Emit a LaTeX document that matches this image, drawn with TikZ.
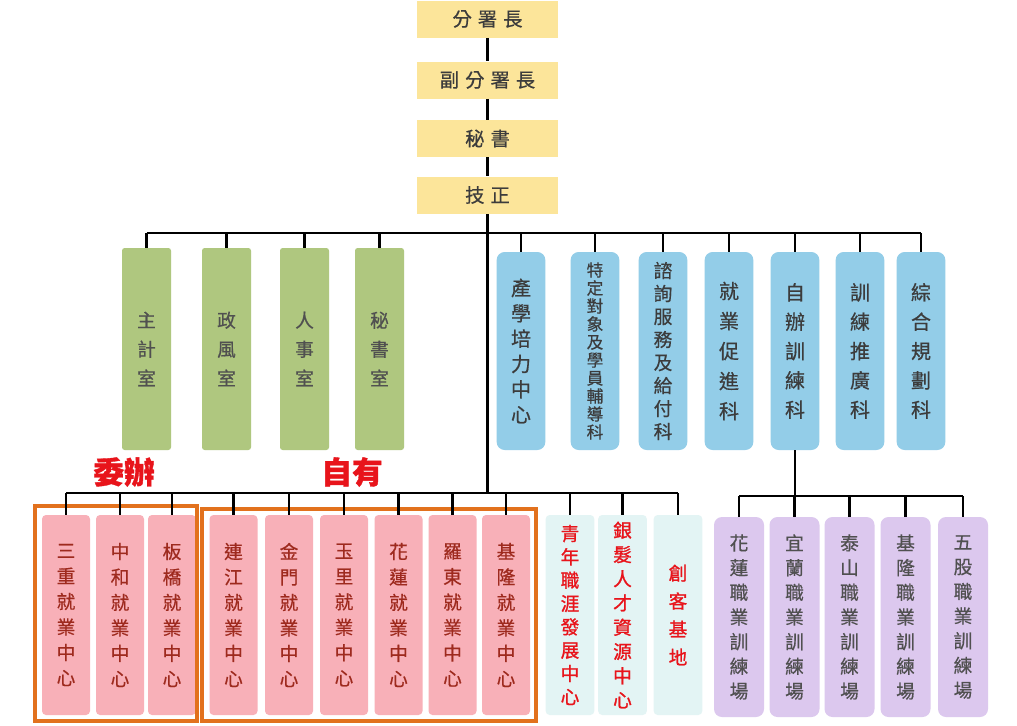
\documentclass[tikz,border=0pt]{standalone}
\usepackage{fontspec}
\setmainfont{Noto Sans CJK TC}
\newfontfamily\medfont{Noto Sans CJK TC}[FakeBold=0.6]
\newfontfamily\hvyfont{Noto Sans CJK TC}[FakeBold=1.2]
\definecolor{ybox}{HTML}{FCE59A}
\definecolor{gbox}{HTML}{AFC77F}
\definecolor{bbox}{HTML}{93CDE8}
\definecolor{pbox}{HTML}{F8B0B8}
\definecolor{cbox}{HTML}{E3F4F4}
\definecolor{lbox}{HTML}{DCC8EE}
\definecolor{frame}{HTML}{E2711D}
\definecolor{redtxt}{HTML}{E8141B}
\definecolor{brtxt}{HTML}{9E2A1E}
\definecolor{dtxt}{HTML}{3C3C3C}
\definecolor{gtxt}{HTML}{505050}
\begin{document}
\begin{tikzpicture}[x=0.75pt,y=-0.75pt,
  conn/.style={line width=1.6pt,black},
  topbox/.style={fill=ybox,draw=none,minimum width=105.75pt,minimum height=27.75pt,inner sep=0pt,text=dtxt,font=\medfont\fontsize{14.5pt}{17pt}\selectfont},
  gbx/.style={fill=gbox,draw=none,rounded corners=2pt,minimum width=36.75pt,minimum height=151.5pt,inner sep=0pt,align=center,text=gtxt},
  bbx/.style={fill=bbox,draw=none,rounded corners=6pt,minimum width=36.5pt,minimum height=148.5pt,inner sep=0pt,align=center,text=dtxt},
  pbx/.style={fill=pbox,draw=none,rounded corners=3pt,minimum width=36pt,minimum height=150pt,inner sep=0pt,align=center,text=brtxt,font=\medfont\fontsize{14pt}{19.1pt}\selectfont},
  cbx/.style={fill=cbox,draw=none,rounded corners=3pt,minimum width=36.5pt,minimum height=150pt,inner sep=0pt,align=center,text=redtxt},
  lbx/.style={fill=lbox,draw=none,rounded corners=6pt,minimum width=37.5pt,minimum height=150pt,inner sep=0pt,align=center,text=gtxt,font=\medfont\fontsize{14pt}{18.5pt}\selectfont},
  grouplabel/.style={text=redtxt,font=\hvyfont\fontsize{23pt}{26pt}\selectfont\bfseries},
  gframe/.style={draw=frame,line width=3pt}]
\useasboundingbox (0,0) rectangle (1017,725);
\fill[white] (0,0) rectangle (1017,725);

% top chain
\node[topbox] (t1) at (487.5,19) {分\hspace{4.5pt}署\hspace{4.5pt}長};
\node[topbox] (t2) at (487.5,80) {副\hspace{4.5pt}分\hspace{4.5pt}署\hspace{4.5pt}長};
\node[topbox] (t3) at (487.5,138.5) {秘\hspace{4.5pt}書};
\node[topbox] (t4) at (487.5,195) {技\hspace{4.5pt}正};

% green offices
\begin{scope}[font=\medfont\fontsize{14pt}{21.75pt}\selectfont]
\node[gbx] (g1) at (146.5,349) {主\\計\\室};
\node[gbx] (g2) at (226.5,349) {政\\風\\室};
\node[gbx] (g3) at (304.5,349) {人\\事\\室};
\node[gbx] (g4) at (379.5,349) {秘\\書\\室};
\end{scope}

% blue sections
\node[bbx,font=\medfont\fontsize{15pt}{19pt}\selectfont] (b1) at (521,351) {產\\學\\培\\力\\中\\心};
\node[bbx,font=\medfont\fontsize{12.5pt}{13.5pt}\selectfont] (b2) at (595,351) {特\\定\\對\\象\\及\\學\\員\\輔\\導\\科};
\node[bbx,font=\medfont\fontsize{14pt}{17.25pt}\selectfont] (b3) at (663,351) {諮\\詢\\服\\務\\及\\給\\付\\科};
\node[bbx,font=\medfont\fontsize{15pt}{22.5pt}\selectfont] (b4) at (729,351) {就\\業\\促\\進\\科};
\node[bbx,font=\medfont\fontsize{15pt}{22pt}\selectfont] (b5) at (795,351) {自\\辦\\訓\\練\\科};
\node[bbx,font=\medfont\fontsize{15pt}{22pt}\selectfont] (b6) at (860,351) {訓\\練\\推\\廣\\科};
\node[bbx,font=\medfont\fontsize{15pt}{22pt}\selectfont] (b7) at (921,351) {綜\\合\\規\\劃\\科};

% pink employment centres
\node[pbx] (p1) at (66,615) {三\\重\\就\\業\\中\\心};
\node[pbx] (p2) at (120,615) {中\\和\\就\\業\\中\\心};
\node[pbx] (p3) at (172,615) {板\\橋\\就\\業\\中\\心};
\node[pbx] (p4) at (233.5,615) {連\\江\\就\\業\\中\\心};
\node[pbx] (p5) at (289,615) {金\\門\\就\\業\\中\\心};
\node[pbx] (p6) at (344,615) {玉\\里\\就\\業\\中\\心};
\node[pbx] (p7) at (398.5,615) {花\\蓮\\就\\業\\中\\心};
\node[pbx] (p8) at (452.5,615) {羅\\東\\就\\業\\中\\心};
\node[pbx] (p9) at (506,615) {基\\隆\\就\\業\\中\\心};

% cyan centres
\node[cbx,font=\hvyfont\fontsize{14pt}{17.5pt}\selectfont] (c1) at (570,615) {青\\年\\職\\涯\\發\\展\\中\\心};
\node[cbx,font=\hvyfont\fontsize{14pt}{18.2pt}\selectfont] (c2) at (622.5,615) {銀\\髮\\人\\才\\資\\源\\中\\心};
\node[cbx,font=\hvyfont\fontsize{14pt}{21pt}\selectfont] (c3) at (678,615) {創\\客\\基\\地};

% lavender training sites
\node[lbx] (l1) at (739,617) {花\\蓮\\職\\業\\訓\\練\\場};
\node[lbx] (l2) at (794.5,617) {宜\\蘭\\職\\業\\訓\\練\\場};
\node[lbx] (l3) at (849.5,617) {泰\\山\\職\\業\\訓\\練\\場};
\node[lbx] (l4) at (905.5,617) {基\\隆\\職\\業\\訓\\練\\場};
\node[lbx] (l5) at (963,617) {五\\股\\職\\業\\訓\\練\\場};

% group labels and frames
\node[grouplabel] (lab1) at (124,472) {委辦};
\node[grouplabel] (lab2) at (352,472) {自有};
\draw[gframe] (35,506) rectangle (197,721);
\draw[gframe] (202,509) rectangle (536,721);

% bus coordinates
\coordinate (busA) at (0,233);
\coordinate (busB) at (0,493);
\coordinate (busC) at (0,496);
\coordinate (jB) at (487.5,493);

% connectors
\draw[conn] (t1.south) -- (t2.north);
\draw[conn] (t2.south) -- (t3.north);
\draw[conn] (t3.south) -- (t4.north);
\draw[conn] (t4.south) -- (jB);
\draw[conn] (g1.north |- busA) -- (b7.north |- busA);
\foreach \n in {g1,g2,g3,g4,b1,b2,b3,b4,b5,b6,b7}
  \draw[conn] (\n.north) -- (\n.north |- busA);
\draw[conn] (p1.north |- busB) -- (c3.north |- busB);
\foreach \n in {p1,p2,p3,p4,p5,p6,p7,p8,p9,c1,c2,c3}
  \draw[conn] (\n.north) -- (\n.north |- busB);
\draw[conn] (b5.south) -- (b5.south |- busC);
\draw[conn] (l1.north |- busC) -- (l5.north |- busC);
\foreach \n in {l1,l2,l3,l4,l5}
  \draw[conn] (\n.north) -- (\n.north |- busC);
\end{tikzpicture}
\end{document}
